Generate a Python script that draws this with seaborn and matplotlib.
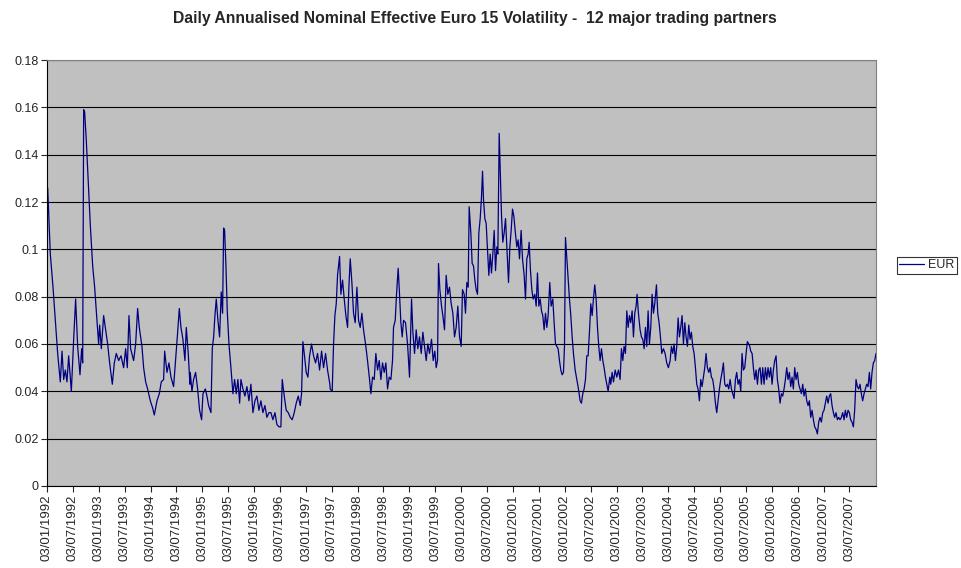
import matplotlib
matplotlib.use("Agg")
import matplotlib.pyplot as plt
import matplotlib.dates as mdates
from matplotlib.ticker import FormatStrFormatter
import seaborn as sns
import numpy as np
import pandas as pd

# years elapsed since 03/01/1992
years = [
    0.013, 0.064, 0.116, 0.161, 0.206, 0.257, 0.290, 0.322, 0.354, 0.386, 0.418, 0.470,
    0.515, 0.553, 0.592, 0.637, 0.669, 0.689, 0.708, 0.727, 0.759, 0.792, 0.837, 0.882,
    0.920, 0.965, 0.997, 1.017, 1.049, 1.094, 1.133, 1.171, 1.210, 1.261, 1.300, 1.338,
    1.384, 1.429, 1.480, 1.519, 1.551, 1.583, 1.615, 1.673, 1.712, 1.750, 1.782, 1.834,
    1.866, 1.905, 1.943, 1.995, 2.040, 2.072, 2.124, 2.169, 2.207, 2.252, 2.272, 2.317,
    2.355, 2.394, 2.445, 2.490, 2.523, 2.555, 2.587, 2.625, 2.664, 2.690, 2.728, 2.760,
    2.767, 2.799, 2.831, 2.870, 2.909, 2.947, 2.986, 3.012, 3.057, 3.089, 3.121, 3.166,
    3.192, 3.218, 3.243, 3.269, 3.301, 3.333, 3.365, 3.391, 3.411, 3.430, 3.456, 3.481,
    3.514, 3.552, 3.591, 3.623, 3.655, 3.687, 3.720, 3.745, 3.784, 3.822, 3.861, 3.900,
    3.938, 3.977, 4.016, 4.054, 4.093, 4.131, 4.170, 4.208, 4.247, 4.286, 4.324, 4.363,
    4.402, 4.440, 4.479, 4.517, 4.543, 4.582, 4.620, 4.659, 4.698, 4.736, 4.775, 4.813,
    4.852, 4.891, 4.916, 4.942, 4.968, 5.006, 5.039, 5.071, 5.109, 5.148, 5.187, 5.225,
    5.264, 5.303, 5.341, 5.380, 5.418, 5.463,
    5.470, 5.508, 5.534, 5.560, 5.586, 5.611, 5.650, 5.676, 5.708, 5.740, 5.772, 5.805,
    5.830, 5.856, 5.888, 5.920, 5.952, 5.985, 6.017, 6.049, 6.081, 6.113, 6.152, 6.190,
    6.229, 6.255, 6.287, 6.319, 6.351, 6.384, 6.416, 6.448, 6.480, 6.512, 6.544, 6.577,
    6.609, 6.641, 6.673, 6.692, 6.725, 6.750, 6.782, 6.808, 6.834, 6.860, 6.886, 6.924,
    6.963, 7.001, 7.040, 7.066, 7.098, 7.130, 7.162, 7.194, 7.227, 7.259, 7.291, 7.323,
    7.355, 7.387, 7.426, 7.458, 7.490, 7.516, 7.542, 7.561, 7.587, 7.619, 7.645, 7.677,
    7.709, 7.741, 7.773, 7.806, 7.838, 7.870, 7.902, 7.934, 7.967, 7.999, 8.024, 8.057,
    8.082, 8.108, 8.134, 8.153,
    8.185, 8.211, 8.237, 8.263, 8.288, 8.314, 8.340, 8.366, 8.391, 8.411, 8.430, 8.456,
    8.481, 8.507, 8.533, 8.559, 8.584, 8.610, 8.636, 8.662, 8.687, 8.707, 8.733, 8.752,
    8.778, 8.803, 8.829, 8.855, 8.880, 8.913, 8.939, 8.964, 8.990, 9.016, 9.041, 9.073,
    9.099, 9.125, 9.157, 9.183, 9.215, 9.241, 9.266, 9.292, 9.311, 9.337, 9.363, 9.389,
    9.421, 9.447, 9.472, 9.498, 9.524, 9.550, 9.575, 9.601, 9.627, 9.653, 9.678, 9.710,
    9.736, 9.768, 9.794, 9.820, 9.846, 9.871, 9.897, 9.923, 9.948, 9.974, 9.994, 10.013,
    10.039, 10.064, 10.090, 10.116, 10.142, 10.167, 10.200, 10.232, 10.264, 10.296,
    10.322, 10.347, 10.373, 10.399, 10.425, 10.450, 10.476, 10.502, 10.528, 10.553,
    10.579, 10.605, 10.631, 10.656, 10.682, 10.708, 10.734, 10.759, 10.785, 10.811,
    10.837, 10.869,
    10.888, 10.914, 10.940, 10.972, 11.004, 11.036, 11.068, 11.094, 11.120, 11.145,
    11.171, 11.197, 11.223, 11.248, 11.274, 11.300, 11.326, 11.351, 11.377, 11.396,
    11.422, 11.454, 11.480, 11.506, 11.532, 11.557, 11.583, 11.609, 11.634, 11.660,
    11.686, 11.712, 11.737, 11.770, 11.795, 11.821, 11.847, 11.873, 11.905, 11.937,
    11.969, 12.001, 12.034, 12.059, 12.085, 12.111, 12.136, 12.162, 12.188, 12.214,
    12.239, 12.265, 12.291, 12.317, 12.342, 12.368, 12.394, 12.420, 12.445, 12.471,
    12.497, 12.523, 12.548, 12.574, 12.600, 12.625, 12.651, 12.677, 12.703, 12.728,
    12.754, 12.780, 12.806, 12.831, 12.857, 12.883, 12.909, 12.934, 12.960, 12.986,
    13.012, 13.037, 13.063, 13.089, 13.115, 13.140, 13.166, 13.192, 13.218, 13.243,
    13.269, 13.295, 13.320, 13.346, 13.372, 13.398, 13.423, 13.449, 13.475, 13.501,
    13.526, 13.552, 13.571,
    13.591, 13.617, 13.642, 13.668, 13.694, 13.720, 13.745, 13.771, 13.797, 13.822,
    13.848, 13.874, 13.900, 13.925, 13.951, 13.977, 14.003, 14.028, 14.054, 14.080,
    14.105, 14.131, 14.157, 14.183, 14.208, 14.234, 14.260, 14.286, 14.311, 14.337,
    14.363, 14.389, 14.414, 14.440, 14.466, 14.492, 14.517, 14.543, 14.569, 14.595,
    14.620, 14.646, 14.672, 14.698, 14.723, 14.749, 14.775, 14.801, 14.826, 14.852,
    14.878, 14.903, 14.929, 14.955, 14.981, 15.006, 15.032, 15.058, 15.084, 15.109,
    15.135, 15.161, 15.187, 15.212, 15.238, 15.264, 15.290, 15.315, 15.341, 15.367,
    15.393, 15.418, 15.444, 15.470, 15.496, 15.521, 15.547, 15.573, 15.598, 15.624,
    15.650, 15.676, 15.701, 15.727, 15.753, 15.779, 15.804, 15.830, 15.856, 15.882,
    15.907, 15.933, 15.959, 15.985, 16.010,
]

eur_vol = [
    0.126, 0.098, 0.084, 0.070, 0.056, 0.044, 0.057, 0.045, 0.049, 0.044, 0.055, 0.040,
    0.062, 0.079, 0.059, 0.047, 0.058, 0.052, 0.159, 0.158, 0.146, 0.131, 0.110, 0.093,
    0.084, 0.070, 0.060, 0.068, 0.058, 0.072, 0.066, 0.060, 0.052, 0.043, 0.052, 0.056,
    0.053, 0.055, 0.050, 0.058, 0.050, 0.072, 0.058, 0.053, 0.060, 0.075, 0.067, 0.059,
    0.050, 0.044, 0.041, 0.036, 0.033, 0.030, 0.036, 0.039, 0.044, 0.045, 0.057, 0.048,
    0.052, 0.046, 0.042, 0.055, 0.065, 0.075, 0.067, 0.062, 0.053, 0.067, 0.056, 0.043,
    0.048, 0.040, 0.045, 0.048, 0.041, 0.032, 0.028, 0.039, 0.041, 0.038, 0.034, 0.031,
    0.058, 0.063, 0.072, 0.079, 0.070, 0.063, 0.082, 0.073, 0.109, 0.108, 0.093, 0.074,
    0.060, 0.050, 0.039, 0.045, 0.039, 0.045, 0.035, 0.045, 0.041, 0.038, 0.042, 0.036,
    0.043, 0.031, 0.036, 0.038, 0.032, 0.036, 0.031, 0.034, 0.029, 0.031, 0.031, 0.028,
    0.031, 0.026, 0.025, 0.025, 0.045, 0.038, 0.032, 0.031, 0.029, 0.028, 0.031, 0.035,
    0.038, 0.034, 0.039, 0.061, 0.056, 0.048, 0.046, 0.055, 0.060, 0.055, 0.052, 0.056,
    0.049, 0.057, 0.050, 0.056, 0.049, 0.043,
    0.041, 0.040, 0.060, 0.072, 0.077, 0.089, 0.097, 0.081, 0.087, 0.079, 0.072, 0.067,
    0.084, 0.096, 0.086, 0.073, 0.069, 0.084, 0.070, 0.067, 0.073, 0.066, 0.060, 0.053,
    0.045, 0.039, 0.046, 0.045, 0.056, 0.049, 0.053, 0.045, 0.052, 0.048, 0.052, 0.041,
    0.046, 0.045, 0.053, 0.067, 0.070, 0.081, 0.092, 0.081, 0.069, 0.063, 0.070, 0.069,
    0.060, 0.046, 0.079, 0.065, 0.056, 0.066, 0.058, 0.063, 0.056, 0.065, 0.059, 0.053,
    0.060, 0.056, 0.062, 0.053, 0.057, 0.050, 0.053, 0.094, 0.083, 0.076, 0.072, 0.066,
    0.089, 0.081, 0.084, 0.077, 0.073, 0.063, 0.067, 0.076, 0.063, 0.059, 0.083, 0.081,
    0.073, 0.086, 0.084, 0.118,
    0.107, 0.094, 0.093, 0.087, 0.083, 0.081, 0.107, 0.113, 0.122, 0.133, 0.121, 0.113,
    0.111, 0.100, 0.089, 0.098, 0.090, 0.098, 0.108, 0.091, 0.101, 0.098, 0.149, 0.134,
    0.114, 0.103, 0.107, 0.113, 0.101, 0.086, 0.101, 0.108, 0.117, 0.114, 0.108, 0.101,
    0.104, 0.096, 0.108, 0.096, 0.089, 0.079, 0.096, 0.098, 0.103, 0.091, 0.083, 0.079,
    0.081, 0.076, 0.090, 0.076, 0.079, 0.074, 0.072, 0.066, 0.073, 0.067, 0.072, 0.086,
    0.076, 0.079, 0.069, 0.060, 0.059, 0.058, 0.053, 0.049, 0.047, 0.048, 0.059, 0.105,
    0.096, 0.087, 0.079, 0.072, 0.063, 0.056, 0.049, 0.045, 0.041, 0.036,
    0.035, 0.039, 0.041, 0.045, 0.055, 0.055, 0.065, 0.077, 0.072, 0.079,
    0.085, 0.079, 0.067, 0.059, 0.053, 0.058, 0.053, 0.050, 0.046, 0.043,
    0.040, 0.046,
    0.043, 0.048, 0.044, 0.049, 0.046, 0.049, 0.045, 0.058, 0.053, 0.059,
    0.056, 0.074, 0.067, 0.072, 0.069, 0.074, 0.063, 0.073, 0.076, 0.081,
    0.073, 0.066, 0.063, 0.062, 0.058, 0.067, 0.059, 0.074, 0.060, 0.067,
    0.081, 0.073, 0.077, 0.085, 0.073, 0.069, 0.063, 0.056, 0.058, 0.056,
    0.052, 0.050, 0.053, 0.059, 0.056, 0.060, 0.053, 0.059, 0.071, 0.063,
    0.067, 0.072, 0.060, 0.069, 0.063, 0.059, 0.068, 0.062, 0.065, 0.059,
    0.056, 0.050, 0.043, 0.041, 0.036, 0.045, 0.042, 0.046, 0.050, 0.056,
    0.050, 0.048, 0.050, 0.046, 0.045, 0.041, 0.035, 0.031, 0.036, 0.041,
    0.045, 0.048, 0.052, 0.043, 0.042, 0.043, 0.041, 0.045, 0.041, 0.039,
    0.037, 0.045, 0.048, 0.043, 0.045, 0.040, 0.056, 0.049, 0.050, 0.056,
    0.061, 0.060, 0.059,
    0.057, 0.056, 0.050, 0.045, 0.049, 0.043, 0.049, 0.050, 0.043, 0.050,
    0.043, 0.050, 0.045, 0.050, 0.046, 0.050, 0.043, 0.049, 0.053, 0.055,
    0.045, 0.041, 0.035, 0.039, 0.038, 0.041, 0.045, 0.050, 0.045, 0.048,
    0.042, 0.046, 0.041, 0.050, 0.045, 0.048, 0.043, 0.041, 0.039, 0.043,
    0.038, 0.041, 0.036, 0.034, 0.036, 0.029, 0.032, 0.028, 0.025, 0.024,
    0.022, 0.027, 0.029, 0.027, 0.031, 0.032, 0.035, 0.038, 0.035, 0.038,
    0.039, 0.034, 0.031, 0.029, 0.031, 0.028, 0.029, 0.028, 0.029, 0.031,
    0.028, 0.032, 0.029, 0.032, 0.031, 0.028, 0.027, 0.025, 0.032, 0.045,
    0.042, 0.041, 0.043, 0.039, 0.036, 0.039, 0.041, 0.043, 0.042, 0.048,
    0.041, 0.048, 0.052, 0.053, 0.056,
]

tick_years = list(range(1992, 2008))
y_ticks = [0, 0.02, 0.04, 0.06, 0.08, 0.1, 0.12, 0.14, 0.16, 0.18]

start = pd.Timestamp("1992-01-03")
df = pd.DataFrame({
    "date": start + pd.to_timedelta(np.array(years) * 365.25, unit="D"),
    "EUR": eur_vol,
})

sns.set_style("white")
plt.rcParams["font.family"] = ["Liberation Sans", "DejaVu Sans"]

fig = plt.figure(figsize=(9.62, 5.68), dpi=100)
ax = fig.add_axes([47 / 962, 1 - 486 / 568, (876 - 47) / 962, (486 - 60) / 568])
ax.set_facecolor("#C0C0C0")

sns.lineplot(data=df, x="date", y="EUR", color="#000080", linewidth=0.9, ax=ax, label="EUR", legend=False)

ax.set_xlim(start, start + pd.Timedelta(days=16.01 * 365.25))
ax.set_ylim(0, 0.18)
ax.set_yticks(y_ticks)
ax.yaxis.set_major_formatter(FormatStrFormatter("%g"))
ax.yaxis.grid(True, color="black", linewidth=0.8)
ax.set_axisbelow(True)

ticks = []
for yr in tick_years:
    ticks.append(pd.Timestamp(f"{yr}-01-03"))
    ticks.append(pd.Timestamp(f"{yr}-07-03"))
ax.set_xticks(ticks)
ax.xaxis.set_major_formatter(mdates.DateFormatter("%d/%m/%Y"))
ax.tick_params(axis="x", rotation=90, labelsize=9.5, length=4, width=0.8, direction="out", bottom=True, pad=2)
ax.tick_params(axis="y", labelsize=9, length=4, width=0.8, direction="out", left=True, pad=2)
ax.set_xlabel("")
ax.set_ylabel("")

for side in ["top", "right"]:
    ax.spines[side].set_color("#808080")
for side in ["left", "bottom"]:
    ax.spines[side].set_color("black")

fig.text(0.494, 1 - 19 / 568, "Daily Annualised Nominal Effective Euro 15 Volatility -  12 major trading partners",
         ha="center", va="center", fontsize=11.3, fontweight="bold")

handles, labels = ax.get_legend_handles_labels()
leg = fig.legend(handles, labels, loc="center left", bbox_to_anchor=(897 / 962, 1 - 265 / 568),
                 frameon=True, fancybox=False, fontsize=9, handlelength=2.0, borderpad=0.2,
                 handletextpad=0.3, borderaxespad=0)
leg.get_frame().set_edgecolor("black")
leg.get_frame().set_linewidth(0.8)

fig.savefig("out.png", dpi=100)
